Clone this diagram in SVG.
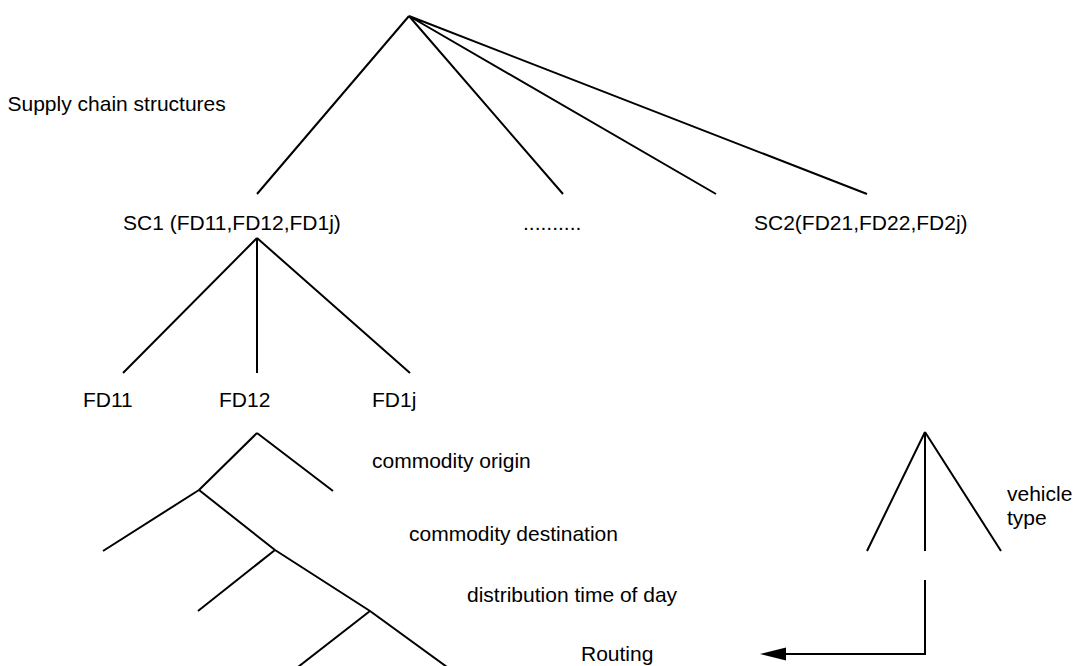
<svg xmlns="http://www.w3.org/2000/svg" width="1076" height="666" viewBox="0 0 1076 666">
<style>
.t{font-family:"Liberation Sans",Arial,sans-serif;font-size:21px;fill:#000}
.l{stroke:#000;stroke-width:2;fill:none;stroke-linecap:butt;stroke-linejoin:miter}
</style>
<rect width="1076" height="666" fill="#fff"/>
<g id="connectors" class="l">
<path d="M409 16 L257 194 M409 16 L563 194 M409 16 L716 194 M409 16 L867 194"/>
<path d="M257 238 L123 373 M257 238 L257 373 M257 238 L410 373"/>
<path d="M257 433 L199 490 M257 433 L333 491 M199 490 L103 551 M199 490 L275 550 M275 550 L198 611 M275 550 L370 611 M370 611 L298 667 M370 611 L447 667"/>
<path d="M925 432 L867 551 M925 432 L925 551 M925 432 L1001 551"/>
<path d="M925 580 L925 654 L784 654"/>
<polygon points="760,654 786,647.5 786,660.5" fill="#000" stroke="none"/>
</g>
<g id="root"><text class="t" x="7.5" y="111">Supply chain structures</text></g>
<g id="sc1"><text class="t" x="123" y="230">SC1 (FD11,FD12,FD1j)</text></g>
<g id="dots"><text class="t" x="523" y="230">..........</text></g>
<g id="sc2"><text class="t" x="754" y="230">SC2(FD21,FD22,FD2j)</text></g>
<g id="fd11"><text class="t" x="83" y="407">FD11</text></g>
<g id="fd12"><text class="t" x="219" y="407">FD12</text></g>
<g id="fd1j"><text class="t" x="372" y="407">FD1j</text></g>
<g id="origin"><text class="t" x="372" y="468">commodity origin</text></g>
<g id="destination"><text class="t" x="409" y="541">commodity destination</text></g>
<g id="timeofday"><text class="t" x="467" y="602">distribution time of day</text></g>
<g id="routing"><text class="t" x="581" y="661">Routing</text></g>
<g id="vehicle"><text class="t" x="1007" y="501">vehicle</text><text class="t" x="1007" y="525">type</text></g>
</svg>
